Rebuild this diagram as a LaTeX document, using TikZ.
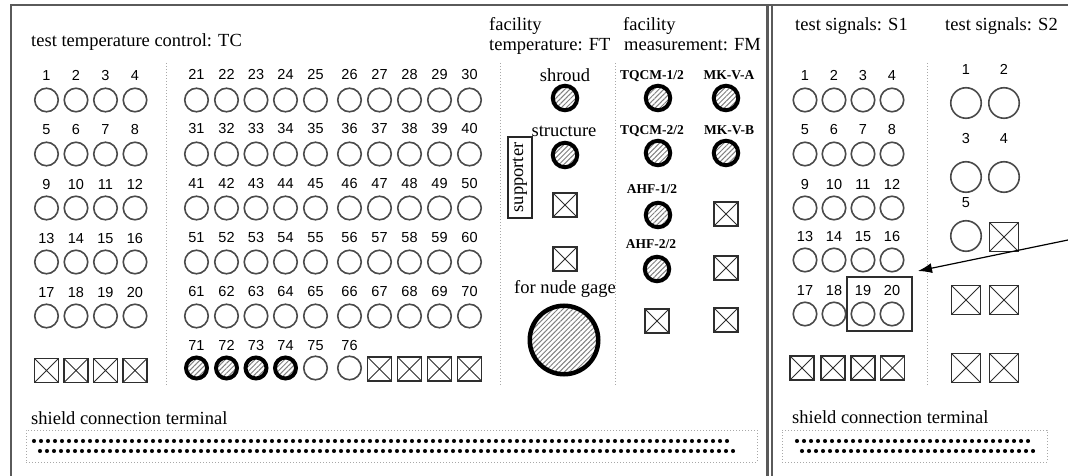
\documentclass[tikz,border=0pt]{standalone}
\usepackage{fontspec}
\setmainfont{Liberation Serif}
\newfontfamily\digitfont{Liberation Sans}
\usetikzlibrary{arrows.meta,patterns.meta}
\definecolor{holecol}{HTML}{4A4A4A}
\definecolor{boxcol}{HTML}{2E2E2E}
\definecolor{framecol}{HTML}{5A5A5A}
\definecolor{sepcol}{HTML}{A8A8A8}
\newcommand\mytitlefont{\fontsize{18.5}{20}\selectfont}
\newcommand\mynumfont{\digitfont\fontsize{14.5}{16}\selectfont}
\newcommand\mysmallfont{\bfseries\fontsize{13.5}{15}\selectfont}
\begin{document}
\begin{tikzpicture}[x=1pt,y=-1pt,
  hole/.style={circle, draw=holecol, line width=1.6pt, minimum size=23.5pt, inner sep=0pt},
  bighole/.style={hole, minimum size=30.5pt},
  hatchc/.style={circle, draw=black, line width=4pt, inner sep=0pt, minimum size=24.5pt,
     pattern={Lines[angle=45,distance=3.5pt,line width=1pt]}, pattern color=gray},
  hatchs/.style={hatchc, minimum size=21pt},
  hatchbig/.style={hatchc, line width=4.5pt, minimum size=68.5pt},
  xsq/.style={rectangle, draw=boxcol, line width=1.6pt, minimum size=24pt, inner sep=0pt,
     path picture={\draw[boxcol, line width=1pt]
       (path picture bounding box.north west) -- (path picture bounding box.south east)
       (path picture bounding box.south west) -- (path picture bounding box.north east);}},
  bigxsq/.style={xsq, minimum size=29pt},
  num/.style={font=\mynumfont, anchor=base, inner sep=0pt},
  ttl/.style={font=\mytitlefont, anchor=base west, inner sep=0pt},
  ctxt/.style={font=\mytitlefont, anchor=base, inner sep=0pt},
  sml/.style={font=\mysmallfont, anchor=base, inner sep=0pt},
  frame/.style={draw=framecol, line width=2.2pt},
  sep/.style={draw=sepcol, dotted, line width=1pt},
  termbox/.style={draw=sepcol, dotted, line width=1pt, inner sep=0pt},
  tdot/.style={fill=black}
]
\useasboundingbox (0,0) rectangle (1068,476);
% frames
\draw[frame] (11,476) -- (11,5) -- (1068,5);
\draw[frame] (767.5,5) -- (767.5,476);
\draw[frame] (772,5) -- (772,476);
% separators
\draw[sep] (166,63) -- (166,385);
\draw[sep] (500,63) -- (500,385);
\draw[sep] (615,63) -- (615,385);
\draw[sep] (927,63) -- (927,385);
% titles
\node[ttl] (ttc) at (31,46.5) {test temperature control: TC};
\node[ttl] (tft1) at (489,31) {facility};
\node[ttl] (tft2) at (489,51) {temperature: FT};
\node[ttl] (tfm1) at (623,31) {facility};
\node[ttl] (tfm2) at (624,51) {measurement: FM};
\node[ttl] (ts1) at (795,31) {test signals: S1};
\node[ttl] (ts2) at (945,31) {test signals: S2};
% TC group 1
\foreach \r [count=\ri from 0] in {100,154,208,262,316} {
  \foreach \c [count=\ci from 0] in {46.5,76,105.5,135} {
    \pgfmathtruncatemacro\n{\ri*4+\ci+1}
    \node[hole] (tc\n) at (\c,\r) {};
    \node[num] (tcl\n) at (\c,\r-19) {\n};
  }
}
\foreach \c [count=\ci] in {46.5,76,105.5,135} {
  \node[xsq] (tcxa\ci) at (\c,370.5) {};
}
% TC group 2
\foreach \r [count=\ri from 0] in {100,154,208,262,316} {
  \foreach \c [count=\ci from 0] in {196.5,226.5,256,285.5,315.5,349.5,379.5,409.5,439.5,469.5} {
    \pgfmathtruncatemacro\n{21+\ri*10+\ci}
    \node[hole] (tc\n) at (\c,\r) {};
    \node[num] (tcl\n) at (\c,\r-20) {\n};
  }
}
\foreach \c [count=\ci] in {196.5,226.5,256,285.5} {
  \pgfmathtruncatemacro\n{70+\ci}
  \node[hatchs] (tc\n) at (\c,368) {};
  \node[num] (tcl\n) at (\c,350) {\n};
}
\node[hole] (tc75) at (315.5,368) {};
\node[num] (tcl75) at (315.5,350) {75};
\node[hole] (tc76) at (349.5,368) {};
\node[num] (tcl76) at (349.5,350) {76};
\foreach \c [count=\ci] in {379.5,409.5,439.5,469.5} {
  \node[xsq] (tcxb\ci) at (\c,369) {};
}
% FT
\node[ctxt] (shroudl) at (565,82) {shroud};
\node[hatchc] (shroud) at (565,98) {};
\node[ctxt] (structl) at (564,137) {structure};
\node[hatchc] (struct) at (565,155) {};
\node[draw=black!85, line width=1.2pt, rotate=90, minimum width=81pt, minimum height=24pt,
      inner sep=0pt, font=\mytitlefont] (supp) at (520,177.5) {supporter};
\node[xsq] (ftx1) at (565,205) {};
\node[xsq] (ftx2) at (565,259) {};
\node[ctxt] (nudel) at (565,293) {for nude gage};
\node[hatchbig] (nude) at (564,340) {};
% FM
\node[sml] (fml1) at (652,80) {TQCM-1/2};
\node[sml] (fml2) at (729,80) {MK-V-A};
\node[hatchc] (fm1) at (658,98) {};
\node[hatchc] (fm2) at (726,98) {};
\node[sml] (fml3) at (652,135) {TQCM-2/2};
\node[sml] (fml4) at (729,135) {MK-V-B};
\node[hatchc] (fm3) at (658,153) {};
\node[hatchc] (fm4) at (726,153) {};
\node[sml] (fml5) at (652,193) {AHF-1/2};
\node[hatchc] (fm5) at (658,215) {};
\node[xsq] (fmx1) at (726,214) {};
\node[sml] (fml6) at (651,248) {AHF-2/2};
\node[hatchc] (fm6) at (657,269) {};
\node[xsq] (fmx2) at (726,268) {};
\node[xsq] (fmx3) at (657,321) {};
\node[xsq] (fmx4) at (726,320) {};
% S1
\foreach \r [count=\ri from 0] in {100,154,208,260,314} {
  \foreach \c [count=\ci from 0] in {805,834,863,892} {
    \pgfmathtruncatemacro\n{\ri*4+\ci+1}
    \node[hole] (sa\n) at (\c,\r) {};
    \node[num] (sal\n) at (\c,\r-19) {\n};
  }
}
\foreach \c [count=\ci] in {802,833,863,892.5} {
  \node[xsq] (sax\ci) at (\c,368) {};
}
\node[draw=boxcol, line width=1.4pt, minimum width=65pt, minimum height=54pt, inner sep=0pt] (box1920) at (879.5,304) {};
% S2
\node[num] (sbl1) at (966,75) {1};
\node[num] (sbl2) at (1004,75) {2};
\node[bighole] (sb1) at (966,103) {};
\node[bighole] (sb2) at (1004,103) {};
\node[num] (sbl3) at (966,143) {3};
\node[num] (sbl4) at (1004,143) {4};
\node[bighole] (sb3) at (966,177) {};
\node[bighole] (sb4) at (1004,177) {};
\node[num] (sbl5) at (966,207) {5};
\node[bighole] (sb5) at (966,236) {};
\node[bigxsq] (sbx1) at (1004,237) {};
\node[bigxsq] (sbx2) at (966,300) {};
\node[bigxsq] (sbx3) at (1004,300) {};
\node[bigxsq] (sbx4) at (966,368) {};
\node[bigxsq] (sbx5) at (1004,368) {};
% arrow
\coordinate (arrs) at (1068,240);
\coordinate (arrt) at (918,271);
\draw[-{Latex[length=14pt,width=10pt]}, line width=1.2pt] (arrs) -- (arrt);
% shield terminals
\node[ttl] (shl) at (31,424) {shield connection terminal};
\node[termbox, minimum width=731pt, minimum height=32pt] (terml) at (391.5,446) {};
\foreach \i in {0,...,99} { \fill[tdot] (34+\i*7,441) circle (2.05pt); }
\foreach \i in {0,...,99} { \fill[tdot] (40+\i*7,451) circle (2.05pt); }
\node[ttl] (shr) at (792,423) {shield connection terminal};
\node[termbox, minimum width=265pt, minimum height=32pt] (termr) at (914.5,446) {};
\foreach \i in {0,...,33} { \fill[tdot] (797+\i*7,441) circle (2.05pt); }
\foreach \i in {0,...,33} { \fill[tdot] (802+\i*7,451) circle (2.05pt); }
\end{tikzpicture}
\end{document}
